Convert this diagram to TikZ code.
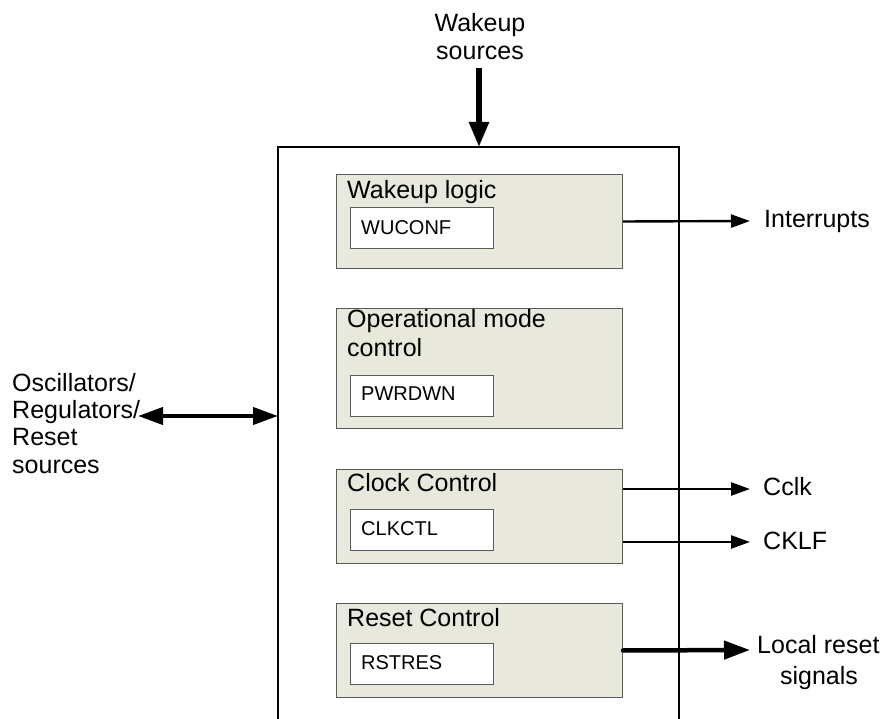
\documentclass[tikz,border=0pt]{standalone}
\usepackage{fontspec}
\setmainfont{Liberation Sans}
\usetikzlibrary{arrows.meta}
\definecolor{blkfill}{HTML}{E8E8DC}
\definecolor{blkdraw}{HTML}{5A5A5A}
\begin{document}
\begin{tikzpicture}[x=1pt,y=-1pt,
  blk/.style={draw=blkdraw,fill=blkfill,line width=1pt,minimum width=286pt,anchor=north west,inner sep=0pt},
  reg/.style={draw=blkdraw,fill=white,line width=1pt,minimum width=143pt,minimum height=41pt,anchor=north west,inner sep=0pt},
  big/.style={font=\fontsize{25}{30}\selectfont,inner sep=0pt,anchor=base west},
  small/.style={font=\fontsize{20}{24}\selectfont,inner sep=0pt,anchor=base west},
  thinarr/.style={line width=2.4pt,-{Triangle[length=19pt,width=13pt]}},
  thickarr/.style={line width=4.5pt,-{Triangle[length=26pt,width=18pt]}},
  dblarr/.style={line width=4pt,{Triangle[length=25pt,width=17pt]}-{Triangle[length=25pt,width=17pt]}}
]
\useasboundingbox (0,0) rectangle (887,719);
% outer box (bottom edge outside picture)
\draw[line width=1.6pt] (278,730) -- (278,147) -- (679,147) -- (679,730);
\coordinate (otop) at (479,147);
\coordinate (oleft) at (278,416);

% blocks
\node[blk,minimum height=94pt] (wl) at (336,174) {};
\node[big] (wlt) at (347,199) {Wakeup logic};
\node[reg] (wuconf) at (350,207) {};
\node[small] (wuconft) at (361,235) {WUCONF};

\node[blk,minimum height=120pt] (om) at (336,308) {};
\node[big] (omt1) at (347,328) {Operational mode};
\node[big] (omt2) at (347,357) {control};
\node[reg] (pwrdwn) at (350,375) {};
\node[small] (pwrdwnt) at (361,401) {PWRDWN};

\node[blk,minimum height=94pt] (cc) at (336,469) {};
\node[big] (cct) at (347,492) {Clock Control};
\node[reg] (clkctl) at (350,509) {};
\node[small] (clkctlt) at (361,535) {CLKCTL};

\node[blk,minimum height=94pt] (rc) at (336,603) {};
\node[big] (rct) at (347,626) {Reset Control};
\node[reg] (rstres) at (350,643) {};
\node[small] (rstrest) at (361,669) {RSTRES};

% external labels
\node[big,anchor=base] (ws1) at (480,32) {Wakeup};
\node[big,anchor=base] (ws2) at (480,60) {sources};
\node[big] (osc1) at (12,392) {Oscillators/};
\node[big] (osc2) at (12,419) {Regulators/};
\node[big] (osc3) at (12,446) {Reset};
\node[big] (osc4) at (12,473) {sources};
\node[big] (intr) at (764,228) {Interrupts};
\node[big] (cclk) at (763,496) {Cclk};
\node[big] (cklf) at (763,549) {CKLF};
\node[big] (lr1) at (757,653) {Local reset};
\node[big,anchor=base] (lr2) at (819,684) {signals};

\coordinate (wsrc) at (479,68);
\coordinate (oscend) at (138,416);
\coordinate (intrend) at (750,221);
\coordinate (cclkend) at (750,489);
\coordinate (cklfend) at (750,542);
\coordinate (lrend) at (750,650);

% connectors
\draw[line width=5.5pt,-{Triangle[length=25pt,width=19pt]}] (wsrc) -- (otop);
\draw[dblarr] (oscend) -- (oleft);
\draw[thinarr] (wl.east) -- (intrend);
\draw[thinarr] (cc.east |- cclkend) -- (cclkend);
\draw[thinarr] (cc.east |- cklfend) -- (cklfend);
\draw[thickarr,line cap=round] (rc.east) -- (lrend);
\end{tikzpicture}
\end{document}
